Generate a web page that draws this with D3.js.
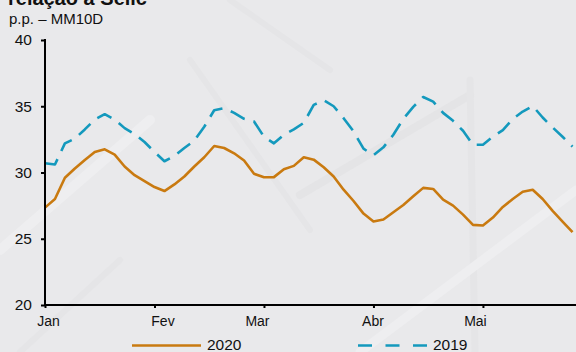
<!DOCTYPE html>
<html>
<head>
<meta charset="utf-8">
<script src="https://cdn.jsdelivr.net/npm/d3@7"></script>
<style>
  html, body { margin: 0; padding: 0; background: #e9e9eb; }
  svg { display: block; font-family: "Liberation Sans", Arial, sans-serif; }
</style>
</head>
<body>
<svg id="chart" width="576" height="352"></svg>
<script>
// Spread over the Selic rate, 10-day moving average (p.p.), by trading day
const months = ["Jan", "Fev", "Mar", "Abr", "Mai"];
const monthStartDay = [0, 22, 44, 66, 88];
const lastDay = 106.7;
const yTicks = [20, 25, 30, 35, 40];

// sampled every second trading day, starting at day 0
const days = d3.range(0, 107, 2);
const spread2020 = [
  27.35, 28.0, 29.6, 30.3, 30.95, 31.55, 31.75, 31.35, 30.45, 29.8,
  29.35, 28.9, 28.6, 29.1, 29.7, 30.45, 31.15, 32.0, 31.85, 31.45,
  30.9, 29.9, 29.64, 29.65, 30.25, 30.5, 31.15, 30.97, 30.4, 29.7,
  28.7, 27.85, 26.9, 26.3, 26.45, 27.0, 27.55, 28.2, 28.84, 28.76,
  27.95, 27.5, 26.82, 26.05, 26.0, 26.6, 27.4, 28.0, 28.55, 28.7,
  28.0, 27.1, 26.3, 25.5
];
const spread2019 = [
  30.7, 30.6, 32.2, 32.55, 33.25, 34.0, 34.4, 34.0, 33.35, 32.9,
  32.3, 31.55, 30.85, 31.25, 31.85, 32.4, 33.45, 34.7, 34.85, 34.5,
  34.05, 33.85, 32.7, 32.2, 32.85, 33.25, 33.75, 35.1, 35.45, 35.0,
  34.1, 33.1, 31.8, 31.3, 31.9, 32.85, 34.05, 34.95, 35.7, 35.35,
  34.5, 33.9, 33.15, 32.1, 32.1, 32.7, 33.2, 34.05, 34.6, 35.02,
  34.15, 33.4, 32.7, 31.95
];

const series = [
  { name: "2020", values: spread2020, color: "#c97a10", dash: null },
  { name: "2019", values: spread2019, color: "#1499bd", dash: "16,9" }
];

const svg = d3.select("#chart");
const W = 576;
const plotLeft = 45, plotBottom = 305, plotTop = 40;

// faint background strokes
const bg = svg.append("g").attr("fill", "none").attr("stroke-linecap", "round");
[
  [[0, 250], [150, 120], "#eeeef0", 10],
  [[300, 195], [470, 95], "#e4e4e6", 8],
  [[470, 80], [475, 352], "#e5e5e7", 7],
  [[190, 60], [310, 230], "#e5e5e7", 6],
  [[360, 352], [576, 190], "#eeeef0", 9],
  [[20, 352], [120, 260], "#e5e5e7", 6],
  [[230, 0], [330, 70], "#e5e5e7", 6]
].forEach(([a, b, c, w]) => {
  bg.append("line").attr("x1", a[0]).attr("y1", a[1]).attr("x2", b[0]).attr("y2", b[1])
    .attr("stroke", c).attr("stroke-width", w);
});

const x = d3.scaleLinear().domain([0, lastDay]).range([plotLeft, W]);
const y = d3.scaleLinear().domain([20, 40]).range([plotBottom, plotTop]);

// title (partly above the frame) and unit line
svg.append("text").attr("x", 8).attr("y", 5)
  .attr("font-size", 20).attr("font-weight", "bold").attr("fill", "#111")
  .text("relação à Selic");
svg.append("text").attr("x", 9).attr("y", 24)
  .attr("font-size", 15).attr("fill", "#111")
  .text("p.p. – MM10D");

// lines
const line = d3.line().x((d, i) => x(days[i])).y(d => y(d));
series.forEach(s => {
  svg.append("path").datum(s.values)
    .attr("fill", "none")
    .attr("stroke", s.color)
    .attr("stroke-width", 2.6)
    .attr("stroke-linejoin", "round")
    .attr("stroke-dasharray", s.dash)
    .attr("d", line);
});

// y axis
const yAxis = svg.append("g").attr("transform", `translate(${plotLeft},0)`)
  .call(d3.axisLeft(y).tickValues(yTicks).tickSize(4).tickPadding(9).tickFormat(d3.format("d")));
yAxis.select(".domain").remove();
yAxis.selectAll(".tick line").attr("stroke", "#000").attr("stroke-width", 2);
yAxis.selectAll(".tick text").attr("font-size", 15.5).attr("fill", "#111")
  .attr("font-family", "Liberation Sans, Arial, sans-serif");
svg.append("line").attr("x1", plotLeft).attr("x2", plotLeft).attr("y1", plotTop - 1).attr("y2", plotBottom + 1)
  .attr("stroke", "#000").attr("stroke-width", 2);

// x axis
const labelShift = [3, 8, -7, -1, -8];
const xAxis = svg.append("g").attr("transform", `translate(0,${plotBottom})`)
  .call(d3.axisBottom(x).tickValues(monthStartDay).tickSize(3).tickPadding(8)
    .tickFormat((d, i) => months[i]));
xAxis.select(".domain").remove();
xAxis.selectAll(".tick line").attr("stroke", "#000").attr("stroke-width", 2);
xAxis.selectAll(".tick text").attr("font-size", 14).attr("fill", "#111")
  .attr("font-family", "Liberation Sans, Arial, sans-serif")
  .attr("dx", (d, i) => labelShift[i]);
svg.append("line").attr("x1", plotLeft - 1).attr("x2", W).attr("y1", plotBottom).attr("y2", plotBottom)
  .attr("stroke", "#000").attr("stroke-width", 2);

// legend
const legend = svg.append("g");
const legendPos = [[132, 201, 207], [358, 427, 433]];
const legendDash = [null, "14,13.5"];
series.forEach((s, i) => {
  const [x1, x2, tx] = legendPos[i];
  legend.append("line").attr("x1", x1).attr("x2", x2).attr("y1", 345.5).attr("y2", 345.5)
    .attr("stroke", s.color).attr("stroke-width", 2.6).attr("stroke-dasharray", legendDash[i]);
  legend.append("text").attr("x", tx).attr("y", 350)
    .attr("font-size", 15.5).attr("fill", "#111").text(s.name);
});
</script>
</body>
</html>
